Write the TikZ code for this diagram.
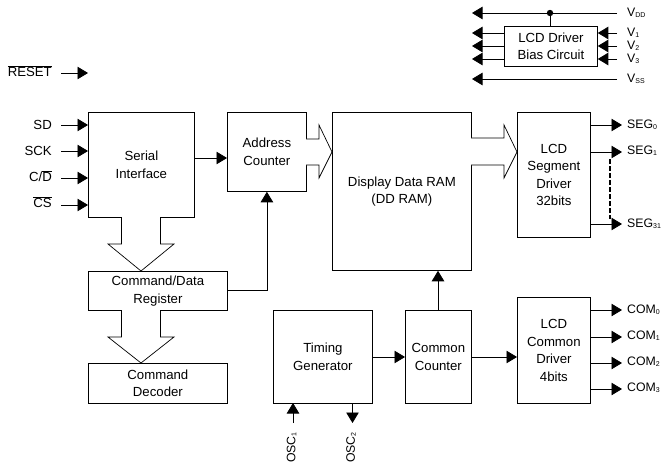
\documentclass[tikz,border=0pt]{standalone}
\usepackage{fontspec}
\setmainfont{Liberation Sans}
\usetikzlibrary{arrows.meta,calc}
\newcommand{\sbs}[1]{\raisebox{-1pt}{\fontsize{7}{7}\selectfont #1}}
\newcommand{\ovl}[1]{$\overline{\mbox{#1}}$}
\tikzset{
  blk/.style={draw=black,line width=0.8pt,inner sep=0pt,align=center,font=\fontsize{13.2}{17.6}\selectfont,fill=white},
  arr/.style={draw=black,line width=0.8pt,-{Triangle[length=10.5pt,width=12.5pt]}},
  wire/.style={draw=black,line width=0.8pt},
  hollow/.style={draw=black,line width=0.7pt,fill=white},
  lab/.style={inner sep=0pt,font=\fontsize{13.2}{15}\selectfont},
  rlab/.style={inner sep=0pt,font=\fontsize{12.3}{15}\selectfont},
}
\begin{document}
\begin{tikzpicture}[x=1pt,y=-1pt]
\useasboundingbox (0,0) rectangle (661,468);
% blocks
\node[blk,minimum width=106pt,minimum height=105pt,anchor=north west] (serial) at (88,112) {Serial\\Interface};
\node[blk,minimum width=79pt,minimum height=79pt,anchor=north west] (addr) at (227,112) {Address\\Counter};
\node[blk,minimum width=139pt,minimum height=158pt,anchor=north west] (ram) at (332,112) {Display Data RAM\\(DD RAM)};
\node[blk,minimum width=73pt,minimum height=125pt,anchor=north west] (seg) at (517,112) {LCD\\Segment\\Driver\\32bits};
\node[blk,minimum width=139pt,minimum height=39pt,anchor=north west] (cmd) at (88,271) {Command/Data\\Register};
\node[blk,minimum width=139pt,minimum height=40pt,anchor=north west] (dec) at (88,363) {Command\\Decoder};
\node[blk,minimum width=99pt,minimum height=93pt,anchor=north west] (tim) at (273,310) {Timing\\Generator};
\node[blk,minimum width=66pt,minimum height=93pt,anchor=north west] (cnt) at (405,310) {Common\\Counter};
\node[blk,minimum width=73pt,minimum height=106pt,anchor=north west] (com) at (517,297) {LCD\\Common\\Driver\\4bits};
\node[blk,minimum width=93pt,minimum height=40pt,anchor=north west] (bias) at (504,26) {LCD Driver\\Bias Circuit};
% hollow arrows
\draw[hollow] (306,139) -- (319,139) -- (319,125) -- (332,152) -- (319,178) -- (319,165) -- (306,165);
\draw[hollow] (471,138) -- (504,138) -- (504,125) -- (517,152) -- (504,178) -- (504,165) -- (471,165);
\draw[hollow] (121.5,217) -- (121.5,244) -- (108,244) -- (141,271) -- (174,244) -- (160.5,244) -- (160.5,217);
\draw[hollow] (121.5,310) -- (121.5,337) -- (108,337) -- (141,363) -- (174,337) -- (160.5,337) -- (160.5,310);
% left inputs
\node[lab,anchor=east] (lreset) at (52,71) {\ovl{RESET}};
\node[lab,anchor=east] (lsd) at (52,125) {SD};
\node[lab,anchor=east] (lsck) at (52,151) {SCK};
\node[lab,anchor=east] (lcd) at (52,176) {C/\ovl{D}};
\node[lab,anchor=east] (lcs) at (52,202) {\ovl{CS}};
\coordinate (preset) at (61,73);
\coordinate (preset2) at (88,73);
\coordinate (psd) at (61,125);
\coordinate (psck) at (61,151);
\coordinate (pcd) at (61,178);
\coordinate (pcs) at (61,205);
\draw[arr] (preset) -- (preset2);
\draw[arr] (psd) -- (psd -| serial.west);
\draw[arr] (psck) -- (psck -| serial.west);
\draw[arr] (pcd) -- (pcd -| serial.west);
\draw[arr] (pcs) -- (pcs -| serial.west);
% internal
\coordinate (s1) at (194,158);
\draw[arr] (s1) -- (s1 -| addr.west);
\coordinate (c1) at (227,290);
\draw[arr] (c1) -| (addr.south);
\coordinate (r1) at (438,310);
\draw[arr] (r1) -- (r1 |- ram.south);
\coordinate (t1) at (372,357);
\draw[arr] (t1) -- (t1 -| cnt.west);
\coordinate (t2) at (471,357);
\draw[arr] (t2) -- (t2 -| com.west);
% SEG
\coordinate (sg0) at (590,125);
\coordinate (sg1) at (590,152);
\coordinate (sg31) at (590,224);
\draw[arr] (sg0) -- ++(32,0);
\draw[arr] (sg1) -- ++(32,0);
\draw[arr] (sg31) -- ++(32,0);
\node[rlab,anchor=west] (lsg0) at (627,125) {SEG\sbs{0}};
\node[rlab,anchor=west] (lsg1) at (627,151) {SEG\sbs{1}};
\node[rlab,anchor=west] (lsg31) at (627,224) {SEG\sbs{31}};
\coordinate (da) at (610,159);
\coordinate (db) at (610,219);
\draw[wire,dash pattern=on 5pt off 2pt,line width=1.2pt] (da) -- (db);
% COM
\foreach \n/\yy/\ly in {0/310/310,1/337/336,2/363/362,3/389/388}{
  \coordinate (cm\n) at (590,\yy);
  \draw[arr] (cm\n) -- ++(32,0);
  \node[rlab,anchor=west] (lcm\n) at (627,\ly) {COM\sbs{\n}};
}
% OSC
\coordinate (o1) at (293,423);
\coordinate (o2) at (352.5,403);
\coordinate (o1e) at (293,403);
\coordinate (o2e) at (352.5,423);
\draw[arr] (o1) -- (o1e);
\draw[arr] (o2) -- (o2e);
\node[rlab,rotate=90,anchor=west] (losc1) at (291.5,463) {OSC\sbs{1}};
\node[rlab,rotate=90,anchor=west] (losc2) at (351,463) {OSC\sbs{2}};
% bias
\coordinate (vddr) at (617,13);
\coordinate (vddl) at (472,13);
\coordinate (vdot) at (550,13);
\draw[arr] (vddr) -- (vddl);
\draw[wire] (vdot) -- (vdot |- bias.north);
\fill (vdot) circle (3.2pt);
\foreach \n/\yy in {1/33,2/46,3/59}{
  \coordinate (bl\n) at (504,\yy);
  \coordinate (br\n) at (617,\yy);
  \draw[arr] (bl\n) -- (bl\n -| vddl);
  \draw[arr] (br\n) -- (br\n -| bias.east);
  \node[rlab,anchor=west] (lv\n) at (627,\yy) {V\sbs{\n}};
}
\coordinate (vssr) at (617,79);
\draw[arr] (vssr) -- (vssr -| vddl);
\node[rlab,anchor=west] (lvdd) at (627,13) {V\sbs{DD}};
\node[rlab,anchor=west] (lvss) at (627,79) {V\sbs{SS}};
\end{tikzpicture}
\end{document}
